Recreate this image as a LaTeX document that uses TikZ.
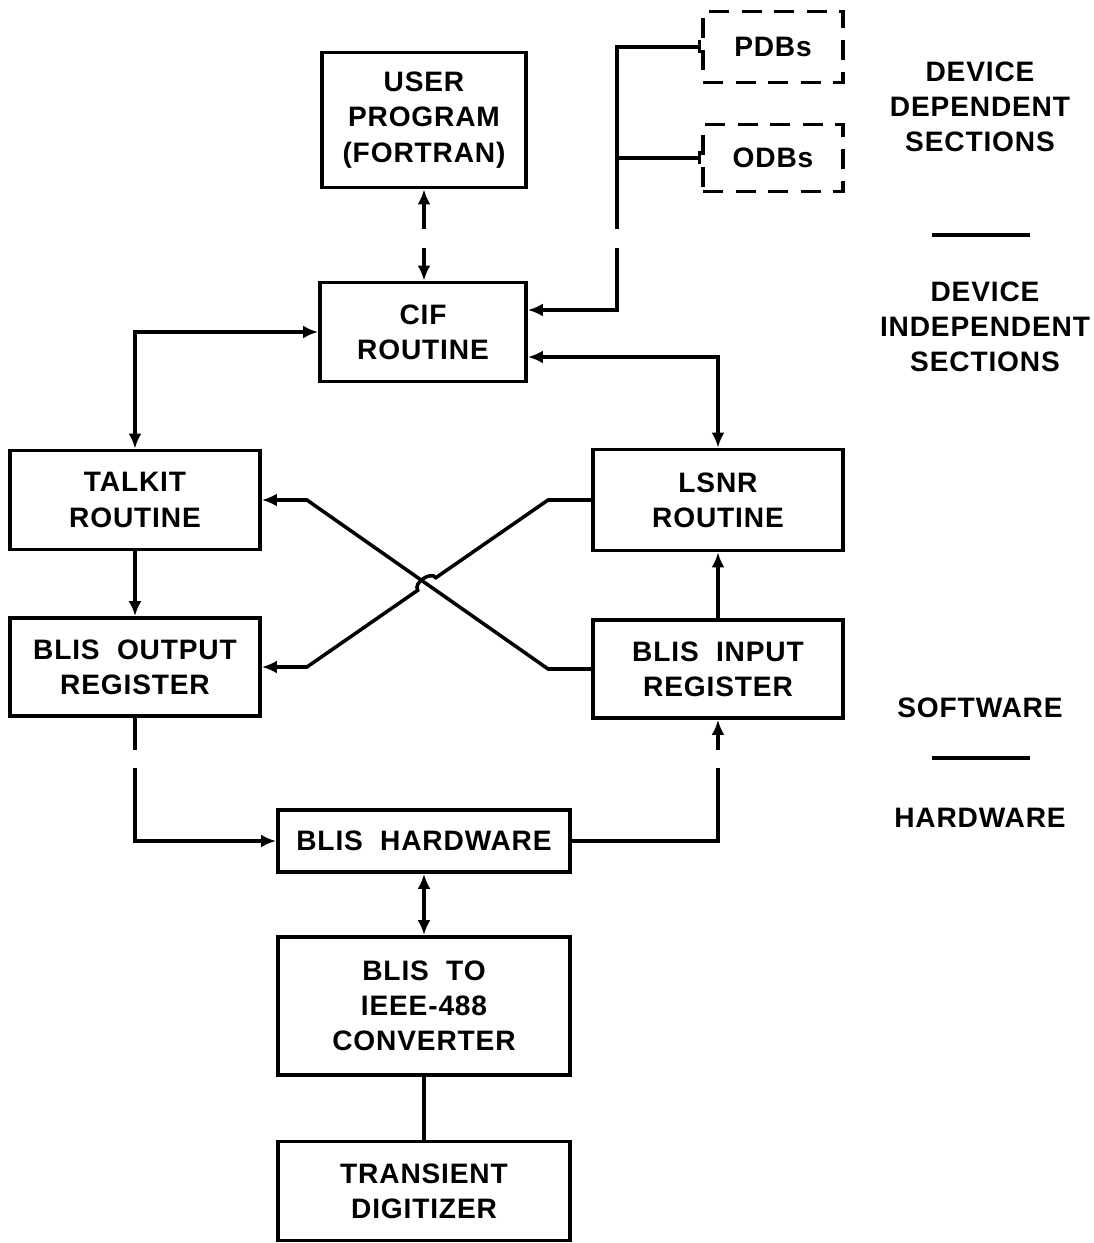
\documentclass[tikz,border=0pt]{standalone}
\usepackage{fontspec}
\setmainfont{Liberation Sans}[LetterSpace=3]
\usetikzlibrary{arrows.meta,calc}

\begin{document}
\begin{tikzpicture}[x=0.02cm,y=-0.02cm,>={Latex[length=3mm,width=2.6mm]},
  box/.style={draw,line width=2.2pt,align=center,inner sep=0pt,font=\fontsize{16}{20}\selectfont\bfseries},
  dbbox/.style={box,dash pattern=on 0.4cm off 0.25cm},
  link/.style={line width=2pt},
  side/.style={align=center,font=\fontsize{16}{20}\selectfont\bfseries}]
\useasboundingbox (0,0) rectangle (1093,1243);
% boxes
\node[box,minimum width=4.08cm,minimum height=2.7cm] (user) at (424,120) {USER\\PROGRAM\\(FORTRAN)};
\node[box,minimum width=4.12cm,minimum height=1.98cm] (cif) at (423,332) {CIF\\ROUTINE};
\node[dbbox,minimum width=2.8cm,minimum height=1.42cm] (pdb) at (773,47) {PDBs};
\node[dbbox,minimum width=2.8cm,minimum height=1.34cm] (odb) at (773,158) {ODBs};
\node[box,minimum width=5cm,minimum height=1.98cm] (talkit) at (135,500) {TALKIT\\ROUTINE};
\node[box,minimum width=5cm,minimum height=2.02cm] (lsnr) at (718,500) {LSNR\\ROUTINE};
\node[box,minimum width=5cm,minimum height=1.96cm] (bout) at (135,667) {BLIS\ \ OUTPUT\\REGISTER};
\node[box,minimum width=5cm,minimum height=1.96cm] (bin) at (718,669) {BLIS\ \ INPUT\\REGISTER};
\node[box,minimum width=5.84cm,minimum height=1.24cm] (hw) at (424,841) {BLIS\ \ HARDWARE};
\node[box,minimum width=5.84cm,minimum height=2.76cm] (conv) at (424,1006) {BLIS\ \ TO\\IEEE-488\\CONVERTER};
\node[box,minimum width=5.84cm,minimum height=1.98cm] (dig) at (424,1191) {TRANSIENT\\DIGITIZER};
% side labels
\node[side] (dep) at (980,107) {DEVICE\\DEPENDENT\\SECTIONS};
\node[side] (indep) at (985,327) {DEVICE\\INDEPENDENT\\SECTIONS};
\node[side] (sw) at (980,708) {SOFTWARE};
\node[side] (hwl) at (980,818) {HARDWARE};
\draw[link] (932,235) -- (1030,235);
\draw[link] (932,758) -- (1030,758);
% gaps at the section borders
\coordinate (ddA) at (0,229);
\coordinate (ddB) at (0,248);
\coordinate (swA) at (0,750);
\coordinate (swB) at (0,768);
\coordinate (bus) at (617,310);
% connectors
\draw[link,<-] (user.south) -- (user.south |- ddA);
\draw[link,->] (user.south |- ddB) -- (user.south |- cif.north);
\draw[link,->] (bus |- ddB) -- (bus) -- (cif.east |- bus);
\draw[link,-{Bar[width=0.26cm]}] (bus |- ddA) |- (pdb.west);
\draw[link,-{Bar[width=0.26cm]}] (bus |- odb.west) -- (odb.west);
\draw[link,<->] (talkit.north) |- (cif.west);
\draw[link,<->] ($(cif.east)+(0,25)$) -| (lsnr.north);
\draw[link,->] (talkit.south) -- (bout.north);
\draw[link,->] (bin.north) -- (lsnr.south);
% crossing lines
\coordinate (xa) at ($(lsnr.west)+(-43,0)$);
\coordinate (xb) at ($(bout.east)+(45,0)$);
\coordinate (ya) at ($(bin.west)+(-43,0)$);
\coordinate (yb) at ($(talkit.east)+(45,0)$);
\coordinate (hop) at (intersection of xa--xb and ya--yb);
\draw[link,->] (lsnr.west) -- (xa) -- ($(hop)!0.22cm!(xa)$) to[bend right=90] ($(hop)!0.22cm!(xb)$) -- (xb) -- (bout.east);
\draw[link,->] (bin.west) -- (ya) -- (yb) -- (talkit.east);
% hardware side
\draw[link] (bout.south) -- (bout.south |- swA);
\draw[link,->] (bout.south |- swB) |- (hw.west);
\draw[link] (hw.east) -| (bin.south |- swB);
\draw[link,->] (bin.south |- swA) -- (bin.south);
\draw[link,<->] (hw.south) -- (conv.north);
\draw[link] (conv.south) -- (dig.north);
\end{tikzpicture}
\end{document}
